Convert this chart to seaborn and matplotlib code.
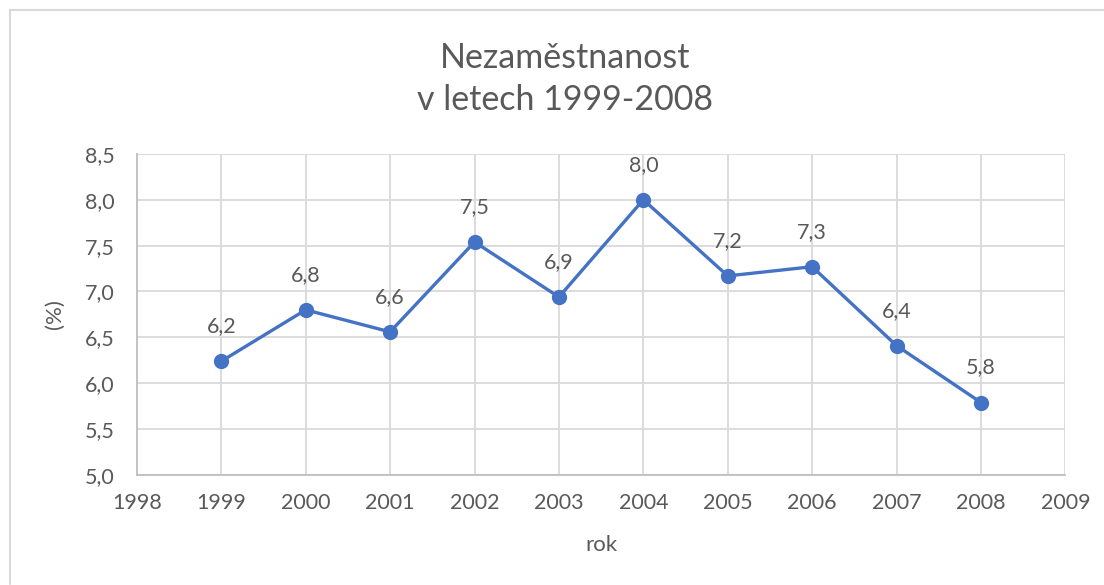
import matplotlib
matplotlib.use("Agg")

import matplotlib.pyplot as plt
import seaborn as sns
import pandas as pd
from matplotlib.lines import Line2D

# ---------------------------------------------------
# Data
# ---------------------------------------------------

years = [1999, 2000, 2001, 2002, 2003, 2004, 2005, 2006, 2007, 2008]
unemployment = [6.24, 6.80, 6.56, 7.54, 6.94, 8.00, 7.17, 7.27, 6.41, 5.79]

x_ticks = list(range(1998, 2010))
y_ticks = [5.0, 5.5, 6.0, 6.5, 7.0, 7.5, 8.0, 8.5]

df = pd.DataFrame({"rok": years, "value": unemployment})

# ---------------------------------------------------
# Style
# ---------------------------------------------------

sns.set_theme(style="white")
plt.rcParams["font.family"] = ["Lato", "DejaVu Sans"]

text_color = "#595959"
line_color = "#4472C4"
grid_color = "#D9D9D9"

fig = plt.figure(figsize=(11.04, 5.85), dpi=100)
ax = fig.add_axes([0.124, 0.188, 0.841, 0.549])

sns.lineplot(
    data=df,
    x="rok",
    y="value",
    ax=ax,
    color=line_color,
    linewidth=2.4,
    marker="o",
    markersize=11,
    markeredgewidth=0,
)

for yr, val in zip(years, unemployment):
    ax.annotate(
        f"{val:.1f}".replace(".", ","),
        (yr, val),
        xytext=(0, 18),
        textcoords="offset points",
        ha="center",
        va="bottom",
        fontsize=15.5,
        color=text_color,
    )

ax.set_xlim(1998, 2009)
ax.set_ylim(5.0, 8.5)
ax.set_xticks(x_ticks)
ax.set_yticks(y_ticks)
ax.set_yticklabels([f"{v:.1f}".replace(".", ",") for v in y_ticks])

ax.grid(True, color=grid_color, linewidth=1.3)
ax.set_axisbelow(True)

for side in ["top", "right"]:
    ax.spines[side].set_visible(False)
for side in ["left", "bottom"]:
    ax.spines[side].set_color("#BFBFBF")
    ax.spines[side].set_linewidth(1.3)

ax.tick_params(axis="x", length=0, labelsize=15.5, colors=text_color, pad=13)
ax.tick_params(axis="y", length=0, labelsize=15.5, colors=text_color, pad=16)

ax.set_xlabel("rok", fontsize=16, color=text_color, labelpad=16)
ax.set_ylabel("(%)", fontsize=16, color=text_color, labelpad=14)

fig.text(
    565 / 1104,
    1 - 79 / 585,
    "Nezaměstnanost\nv letech 1999-2008",
    ha="center",
    va="center",
    fontsize=24.5,
    color=text_color,
    linespacing=1.35,
)

# chart border (top and left edges visible)
fig.add_artist(Line2D([10 / 1104, 1.0], [1 - 10 / 585, 1 - 10 / 585],
                      color="#D9D9D9", linewidth=1.5))
fig.add_artist(Line2D([10 / 1104, 10 / 1104], [1 - 10 / 585, 1 / 585],
                      color="#D9D9D9", linewidth=1.5))

fig.savefig("out.png", dpi=100)
plt.close(fig)
